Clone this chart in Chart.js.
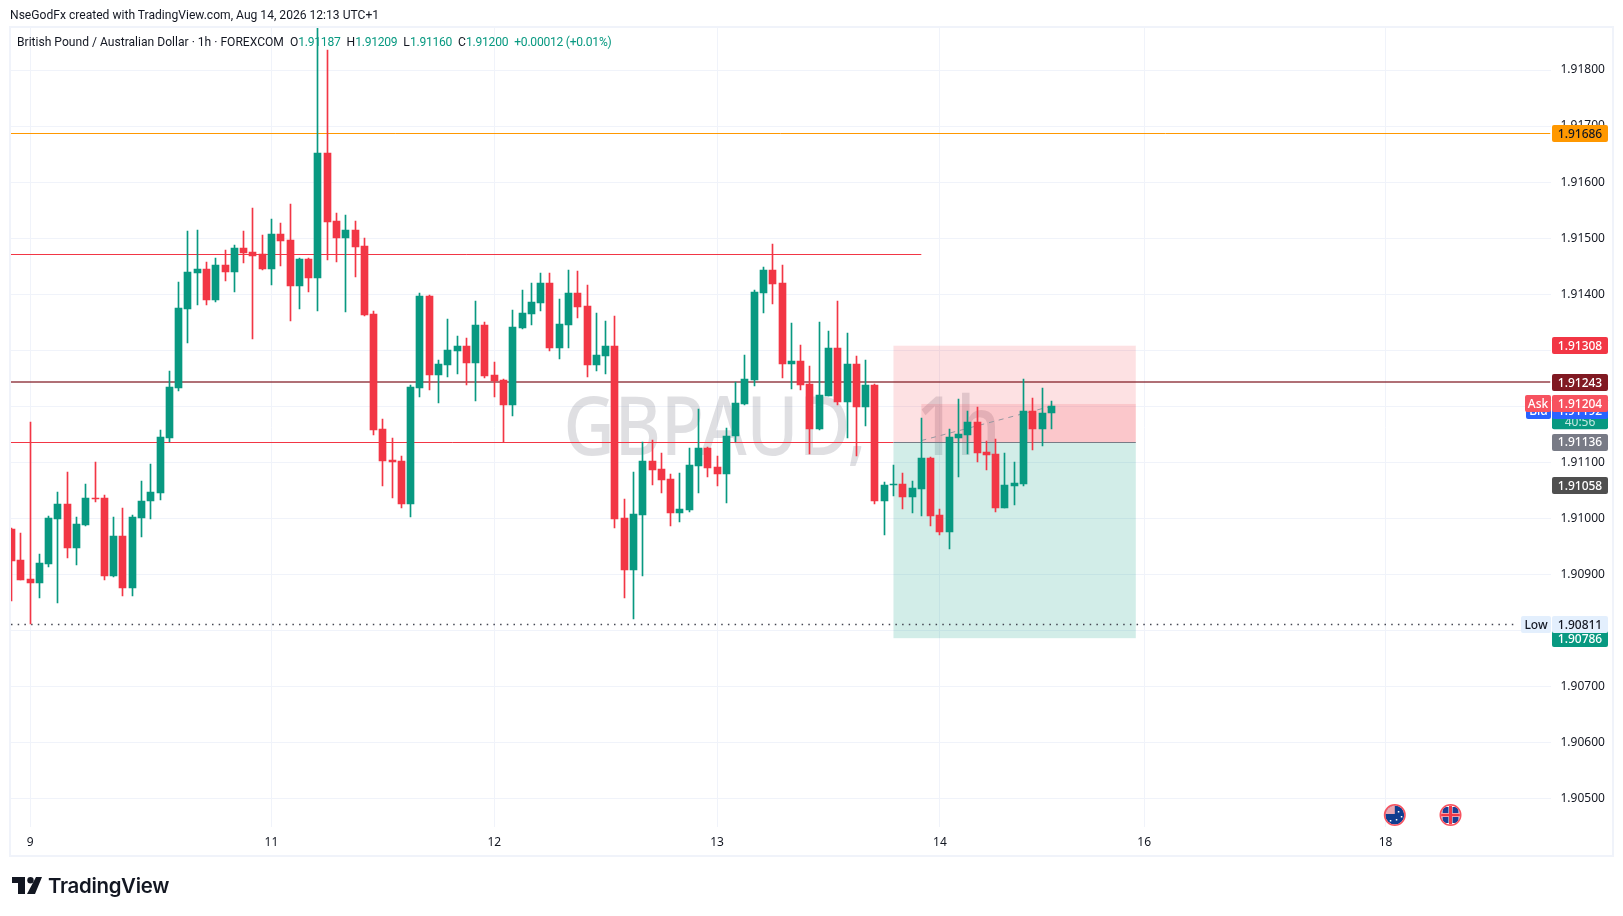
<!DOCTYPE html>
<html>
<head>
<meta charset="utf-8">
<title>GBPAUD 1h</title>
<script src="https://cdn.jsdelivr.net/npm/chart.js@4"></script>
<style>
    html, body { margin: 0; padding: 0; background: #fff; overflow: hidden; }
    #wrap { position: relative; width: 1623px; height: 916px; font-family: "Noto Sans", sans-serif; color: #131722; }
    canvas { position: absolute; left: 0; top: 0; }
    .txt { position: absolute; white-space: pre; line-height: 16px; font-family: Roboto, sans-serif; }
    #header { left: 10px; top: 7px; font-size: 12.1px; }
    #legend { left: 17px; top: 34px; font-size: 12.1px; }
    #legend b { font-weight: 400; color: #089981; letter-spacing: -0.25px; }
    #brand { left: 48px; top: 872px; font: 600 20.4px/28px Inter, sans-serif; color: #131722; letter-spacing: -0.3px; }
    #logo { position: absolute; left: 12px; top: 877px; }
</style>
</head>
<body>
<div id="wrap">
    <canvas id="chart" width="1623" height="916"></canvas>
    <div class="txt" id="header">NseGodFx created with TradingView.com, Aug 14, 2026 12:13 UTC+1</div>
    <div class="txt" id="legend">British Pound / Australian Dollar · 1h · FOREXCOM  O<b>1.91187</b>  H<b>1.91209</b>  L<b>1.91160</b>  C<b>1.91200</b>  <b>+0.00012 (+0.01%)</b></div>
    <svg id="logo" width="30" height="17" viewBox="0 0 30 17">
        <path d="M0 0h13v17H6V6H0z M24 0h6l-7 17h-8z" fill="#131722"/>
        <circle cx="18.5" cy="3.2" r="3.2" fill="#131722"/>
    </svg>
    <div class="txt" id="brand">TradingView</div>
</div>
<script>
// GBPAUD hourly candles
const opens = [
    1.90980, 1.90925, 1.90891, 1.90885, 1.90918, 1.90999, 1.91025, 1.90947, 1.90988, 1.91037,
    1.91036, 1.90897, 1.90968, 1.90876, 1.91001, 1.91030, 1.91045, 1.91144, 1.91233, 1.91374,
    1.91438, 1.91445, 1.91389, 1.91452, 1.91440, 1.91482, 1.91475, 1.91471, 1.91444, 1.91507,
    1.91497, 1.91415, 1.91463, 1.91429, 1.91652, 1.91530, 1.91501, 1.91514, 1.91486, 1.91364,
    1.91159, 1.91104, 1.91102, 1.91026, 1.91233, 1.91397, 1.91256, 1.91274, 1.91299, 1.91307,
    1.91278, 1.91345, 1.91256, 1.91247, 1.91203, 1.91340, 1.91364, 1.91384, 1.91420, 1.91304,
    1.91345, 1.91402, 1.91379, 1.91274, 1.91290, 1.91308, 1.91001, 1.90908, 1.91006, 1.91103,
    1.91088, 1.91070, 1.91010, 1.91015, 1.91094, 1.91126, 1.91092, 1.91079, 1.91146, 1.91204,
    1.91247, 1.91402, 1.91443, 1.91420, 1.91276, 1.91281, 1.91240, 1.91160, 1.91219, 1.91304,
    1.91208, 1.91276, 1.91199, 1.91238, 1.91031, 1.91060, 1.91061, 1.91038, 1.91052, 1.91108,
    1.91006, 1.90976, 1.91144, 1.91149, 1.91172, 1.91119, 1.91115, 1.91019, 1.91058, 1.91061,
    1.91192, 1.91160, 1.91187
];
const highs = [
    1.90982, 1.90973, 1.91171, 1.90937, 1.91004, 1.91047, 1.91082, 1.91002, 1.91062, 1.91100,
    1.91041, 1.91002, 1.91018, 1.91005, 1.91066, 1.91097, 1.91157, 1.91263, 1.91421, 1.91513,
    1.91514, 1.91458, 1.91464, 1.91479, 1.91488, 1.91513, 1.91554, 1.91505, 1.91534, 1.91527,
    1.91561, 1.91464, 1.91464, 1.91890, 1.91836, 1.91545, 1.91541, 1.91530, 1.91500, 1.91370,
    1.91177, 1.91143, 1.91111, 1.91238, 1.91402, 1.91399, 1.91282, 1.91356, 1.91325, 1.91322,
    1.91388, 1.91350, 1.91279, 1.91249, 1.91372, 1.91407, 1.91420, 1.91438, 1.91438, 1.91391,
    1.91443, 1.91441, 1.91416, 1.91367, 1.91352, 1.91361, 1.91035, 1.91083, 1.91136, 1.91140,
    1.91117, 1.91079, 1.91081, 1.91126, 1.91195, 1.91127, 1.91111, 1.91161, 1.91244, 1.91292,
    1.91408, 1.91449, 1.91490, 1.91452, 1.91349, 1.91310, 1.91272, 1.91351, 1.91335, 1.91388,
    1.91331, 1.91290, 1.91283, 1.91239, 1.91065, 1.91095, 1.91081, 1.91067, 1.91179, 1.91109,
    1.91017, 1.91160, 1.91213, 1.91192, 1.91199, 1.91138, 1.91142, 1.91117, 1.91101, 1.91249,
    1.91215, 1.91233, 1.91209
];
const lows = [
    1.90852, 1.90890, 1.90811, 1.90857, 1.90913, 1.90849, 1.90929, 1.90916, 1.90986, 1.91029,
    1.90890, 1.90895, 1.90862, 1.90862, 1.90967, 1.90999, 1.91033, 1.91136, 1.91227, 1.91313,
    1.91380, 1.91380, 1.91386, 1.91424, 1.91403, 1.91456, 1.91320, 1.91443, 1.91417, 1.91451,
    1.91352, 1.91374, 1.91403, 1.91370, 1.91461, 1.91458, 1.91369, 1.91431, 1.91361, 1.91149,
    1.91058, 1.91037, 1.91019, 1.91003, 1.91217, 1.91229, 1.91206, 1.91253, 1.91258, 1.91238,
    1.91210, 1.91251, 1.91217, 1.91136, 1.91183, 1.91338, 1.91345, 1.91370, 1.91298, 1.91284,
    1.91304, 1.91357, 1.91253, 1.91263, 1.91258, 1.90983, 1.90858, 1.90820, 1.90897, 1.91060,
    1.91045, 1.90986, 1.90994, 1.91012, 1.91045, 1.91074, 1.91058, 1.91028, 1.91136, 1.91203,
    1.91236, 1.91367, 1.91383, 1.91251, 1.91231, 1.91229, 1.91115, 1.91158, 1.91218, 1.91202,
    1.91144, 1.91111, 1.91165, 1.91026, 1.90970, 1.91040, 1.91017, 1.91010, 1.91004, 1.90986,
    1.90970, 1.90945, 1.91074, 1.91115, 1.91101, 1.91086, 1.91011, 1.91018, 1.91024, 1.91058,
    1.91122, 1.91129, 1.91160
];
const closes = [
    1.90924, 1.90890, 1.90885, 1.90920, 1.91000, 1.91025, 1.90947, 1.90989, 1.91037, 1.91034,
    1.90897, 1.90968, 1.90876, 1.91002, 1.91030, 1.91047, 1.91145, 1.91234, 1.91375, 1.91439,
    1.91445, 1.91389, 1.91452, 1.91440, 1.91482, 1.91474, 1.91468, 1.91444, 1.91507, 1.91495,
    1.91415, 1.91462, 1.91429, 1.91652, 1.91529, 1.91501, 1.91514, 1.91485, 1.91363, 1.91158,
    1.91103, 1.91101, 1.91026, 1.91234, 1.91397, 1.91256, 1.91275, 1.91300, 1.91307, 1.91278,
    1.91345, 1.91254, 1.91245, 1.91203, 1.91341, 1.91366, 1.91386, 1.91420, 1.91304, 1.91347,
    1.91402, 1.91377, 1.91274, 1.91292, 1.91308, 1.90999, 1.90908, 1.91008, 1.91103, 1.91086,
    1.91069, 1.91010, 1.91017, 1.91095, 1.91126, 1.91090, 1.91079, 1.91147, 1.91206, 1.91249,
    1.91404, 1.91443, 1.91418, 1.91276, 1.91281, 1.91238, 1.91160, 1.91220, 1.91304, 1.91208,
    1.91276, 1.91199, 1.91238, 1.91031, 1.91060, 1.91062, 1.91038, 1.91054, 1.91108, 1.91004,
    1.90976, 1.91145, 1.91151, 1.91172, 1.91117, 1.91113, 1.91019, 1.91060, 1.91063, 1.91192,
    1.91160, 1.91188, 1.91200
];

// time axis: bar number -> day label
const timeTickBars = [2, 28, 52, 76, 100, 122, 148];
const timeTickLabels = ['9', '11', '12', '13', '14', '16', '18'];

// horizontal levels
const orangeLevel = 1.91686;
const resistanceLevel = 1.91471;
const darkLevel = 1.91243;
const entryLevel = 1.91136;
const stopLevel = 1.91308;
const targetLevel = 1.90786;
const lowLevel = 1.90811;
const askLevel = 1.91204;
const bidLevel = 1.91192;
const lastLevel = 1.91200;
const closeTagLevel = 1.91058;
const eventBars = [149, 155];

const UP = '#089981';
const DOWN = '#f23645';
const GRID = '#f0f3fa';
const FONT = '"Noto Sans", sans-serif';

const barIndexes = opens.map((_, i) => i);
const candleColor = i => closes[i] >= opens[i] ? UP : DOWN;

function drawTag(ctx, y, text, bg, fg, x = 1552, w = 56) {
    ctx.fillStyle = bg;
    ctx.beginPath();
    ctx.roundRect(x, Math.round(y - 8.5), w, 17, 2);
    ctx.fill();
    ctx.fillStyle = fg;
    ctx.font = '500 12px ' + FONT;
    ctx.textAlign = 'center';
    ctx.textBaseline = 'middle';
    ctx.fillText(text, x + w / 2, y + 1);
}

function hLine(ctx, x0, x1, y, color, width, dash) {
    ctx.save();
    ctx.strokeStyle = color;
    ctx.lineWidth = width;
    ctx.setLineDash(dash || []);
    ctx.beginPath();
    const py = width % 2 ? Math.floor(y) + 0.5 : Math.round(y);
    ctx.moveTo(x0, py);
    ctx.lineTo(x1, py);
    ctx.stroke();
    ctx.restore();
}

function drawFlag(ctx, x, y, kind) {
    ctx.save();
    ctx.beginPath();
    ctx.arc(x, y, 9.5, 0, Math.PI * 2);
    ctx.clip();
    if (kind === 'au') {
        ctx.fillStyle = '#0f3d8f';
        ctx.fillRect(x - 10, y - 10, 20, 20);
        ctx.fillStyle = '#e8a8b4';
        ctx.fillRect(x - 10, y - 10, 10, 9);
        ctx.fillStyle = '#fff';
        [[3, -4], [6, 1], [1, 4], [-5, 5]].forEach(p => ctx.fillRect(x + p[0], y + p[1], 1.5, 1.5));
    } else {
        ctx.fillStyle = '#fff';
        ctx.fillRect(x - 10, y - 10, 20, 20);
        ctx.fillStyle = '#1c3f94';
        [[-8, -8], [2, -8], [-8, 2], [2, 2]].forEach(p => ctx.fillRect(x + p[0], y + p[1], 6, 6));
        ctx.fillStyle = '#ef3b4a';
        ctx.fillRect(x - 10, y - 1.5, 20, 3);
        ctx.fillRect(x - 1.5, y - 10, 3, 20);
    }
    ctx.restore();
    ctx.strokeStyle = '#f7525f';
    ctx.lineWidth = 1.6;
    ctx.beginPath();
    ctx.arc(x, y, 10.2, 0, Math.PI * 2);
    ctx.stroke();
}

// frame, watermark, position box and level lines under the candles; price tags on top
const overlayPlugin = {
    id: 'overlay',
    beforeDraw(chart) {
        const ctx = chart.ctx;
        ctx.save();
        ctx.fillStyle = '#fff';
        ctx.fillRect(0, 0, chart.width, chart.height);
        ctx.strokeStyle = GRID;
        ctx.lineWidth = 2;
        ctx.strokeRect(10, 27, 1603, 829);
        ctx.restore();
    },
    beforeDatasetsDraw(chart) {
        const ctx = chart.ctx, x = chart.scales.x, y = chart.scales.y, area = chart.chartArea;

        // keep candles on whole pixels like the original
        chart.getSortedVisibleDatasetMetas().forEach(meta => {
            meta.data.forEach(el => {
                el.x = Math.floor(el.x) + 0.5;
                el.y = Math.round(el.y);
                el.base = Math.round(el.base);
                if (el.base === el.y) el.base = el.y + 1;
            });
        });

        ctx.save();
        ctx.beginPath();
        ctx.rect(area.left, area.top, area.right - area.left, area.bottom - area.top);
        ctx.clip();

        // the watermark font of the original is narrower than Noto Sans
        ctx.save();
        ctx.translate(782, 432);
        ctx.scale(0.86, 1);
        ctx.fillStyle = 'rgba(120, 123, 134, 0.24)';
        ctx.font = '500 82px ' + FONT;
        ctx.wordSpacing = '36px';
        ctx.textAlign = 'center';
        ctx.textBaseline = 'middle';
        ctx.fillText('GBPAUD, 1h', 0, 0);
        ctx.restore();

        const boxL = x.getPixelForValue(95), boxR = x.getPixelForValue(121.1);
        const liveL = x.getPixelForValue(98), liveR = x.getPixelForValue(112);
        const yStop = y.getPixelForValue(stopLevel), yEntry = y.getPixelForValue(entryLevel);
        const yTarget = y.getPixelForValue(targetLevel), yAsk = y.getPixelForValue(askLevel);
        ctx.fillStyle = 'rgba(242, 54, 69, 0.15)';
        ctx.fillRect(boxL, yStop, boxR - boxL, yEntry - yStop);
        ctx.fillRect(liveL, yAsk, boxR - liveL, yEntry - yAsk);
        ctx.fillStyle = 'rgba(8, 153, 129, 0.18)';
        ctx.fillRect(boxL, yEntry, boxR - boxL, yTarget - yEntry);

        hLine(ctx, area.left, area.right, y.getPixelForValue(orangeLevel), '#ff9800', 1);
        hLine(ctx, area.left, x.getPixelForValue(98), y.getPixelForValue(resistanceLevel), DOWN, 1);
        hLine(ctx, area.left, boxL, yEntry, DOWN, 1);
        hLine(ctx, boxL, boxR, yEntry, '#787b86', 1);
        hLine(ctx, area.left, area.right, y.getPixelForValue(darkLevel), 'rgba(128, 25, 34, 0.62)', 2);
        hLine(ctx, area.left, 1518, y.getPixelForValue(lowLevel), '#434651', 1.5, [1.5, 5.2]);

        // dashed line from entry to the last price
        ctx.strokeStyle = '#9598a1';
        ctx.lineWidth = 1;
        ctx.setLineDash([5, 5]);
        ctx.beginPath();
        ctx.moveTo(liveL, yEntry - 1.5);
        ctx.lineTo(liveR, y.getPixelForValue(lastLevel));
        ctx.stroke();
        ctx.restore();
    },
    afterDraw(chart) {
        const ctx = chart.ctx, x = chart.scales.x, y = chart.scales.y;
        ctx.save();

        eventBars.forEach((bar, i) => drawFlag(ctx, x.getPixelForValue(bar), 815, i === 0 ? 'au' : 'uk'));

        drawTag(ctx, y.getPixelForValue(orangeLevel), orangeLevel.toFixed(5), '#ff9800', '#131722');
        drawTag(ctx, y.getPixelForValue(stopLevel), stopLevel.toFixed(5), DOWN, '#fff');
        drawTag(ctx, y.getPixelForValue(darkLevel), darkLevel.toFixed(5), '#801922', '#fff');

        // last price tag with countdown, then bid and ask over it
        const yLast = y.getPixelForValue(lastLevel);
        ctx.fillStyle = UP;
        ctx.beginPath();
        ctx.roundRect(1552, yLast - 8, 56, 31, 2);
        ctx.fill();
        ctx.fillStyle = '#c4e8e1';
        ctx.font = '12px ' + FONT;
        ctx.textAlign = 'center';
        ctx.textBaseline = 'middle';
        ctx.fillText('40:56', 1580, yLast + 16);
        drawTag(ctx, y.getPixelForValue(bidLevel), 'Bid', '#2962ff', '#fff', 1526, 25);
        drawTag(ctx, y.getPixelForValue(bidLevel), bidLevel.toFixed(5), '#2962ff', '#fff');
        drawTag(ctx, y.getPixelForValue(askLevel), 'Ask', '#f7525f', '#fff', 1525, 26);
        drawTag(ctx, y.getPixelForValue(askLevel), askLevel.toFixed(5), '#f7525f', '#fff');

        drawTag(ctx, y.getPixelForValue(entryLevel), entryLevel.toFixed(5), '#787b86', '#fff');
        drawTag(ctx, y.getPixelForValue(closeTagLevel), closeTagLevel.toFixed(5), '#4f4f4f', '#fff');
        drawTag(ctx, y.getPixelForValue(targetLevel), targetLevel.toFixed(5), UP, '#fff');
        drawTag(ctx, y.getPixelForValue(lowLevel), 'Low', '#e3effd', '#131722', 1521, 30);
        drawTag(ctx, y.getPixelForValue(lowLevel), lowLevel.toFixed(5), '#e3effd', '#131722');
        ctx.restore();
    }
};

new Chart(document.getElementById('chart'), {
    type: 'bar',
    data: {
        datasets: [
            {
                label: 'Body',
                order: 1,
                barThickness: 7,
                data: barIndexes.map(i => ({ x: i, y: [opens[i], closes[i]] })),
                backgroundColor: barIndexes.map(candleColor)
            },
            {
                label: 'Wick',
                order: 2,
                barThickness: 1,
                data: barIndexes.map(i => ({ x: i, y: [lows[i], highs[i]] })),
                backgroundColor: barIndexes.map(candleColor)
            }
        ]
    },
    plugins: [overlayPlugin],
    options: {
        responsive: false,
        animation: false,
        events: [],
        devicePixelRatio: 1,
        layout: { padding: { left: 11, top: 28, right: 10, bottom: 60 } },
        datasets: { bar: { grouped: false, borderWidth: 0 } },
        plugins: { legend: { display: false }, tooltip: { enabled: false } },
        scales: {
            x: {
                type: 'linear',
                offset: false,
                min: -0.054,
                max: 165.77,
                border: { display: false },
                grid: { color: GRID, offset: false, drawTicks: false },
                afterBuildTicks: scale => { scale.ticks = timeTickBars.map(v => ({ value: v })); },
                afterFit: scale => { scale.height = 29; },
                ticks: {
                    autoSkip: false,
                    maxRotation: 0,
                    padding: 8,
                    color: '#131722',
                    font: { family: FONT, size: 12 },
                    callback: v => timeTickLabels[timeTickBars.indexOf(v)]
                }
            },
            y: {
                position: 'right',
                min: 1.90449,
                max: 1.91875,
                border: { display: false },
                grid: { color: GRID, drawTicks: false },
                afterFit: scale => { scale.width = 62.5; },
                ticks: {
                    stepSize: 0.001,
                    includeBounds: false,
                    autoSkip: false,
                    padding: 10,
                    color: '#131722',
                    font: { family: FONT, size: 12 },
                    callback: v => v.toFixed(5)
                }
            }
        }
    }
});
</script>
</body>
</html>
